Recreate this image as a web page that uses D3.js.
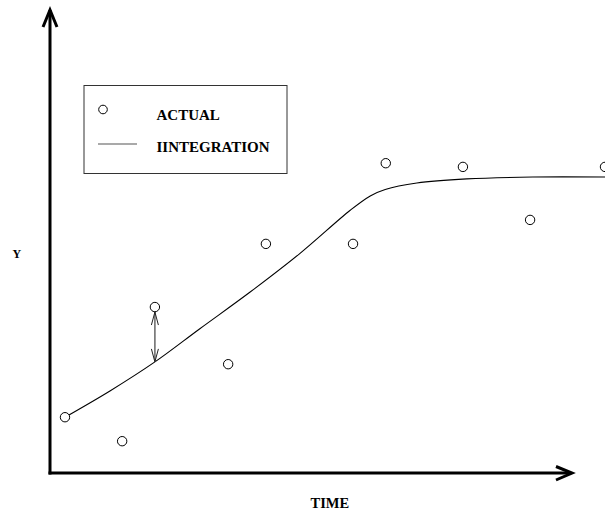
<!DOCTYPE html>
<html>
<head>
<meta charset="utf-8">
<script src="https://cdn.jsdelivr.net/npm/d3@7"></script>
<style>
  html, body { margin: 0; padding: 0; background: #fff; overflow: hidden; }
  svg { display: block; }
  text { font-family: "Liberation Serif", "Times New Roman", serif; font-weight: bold; fill: #000; }
</style>
</head>
<body>
<svg id="chart" width="605" height="510"></svg>
<script>
// ---- data ----
const actualTime = [2.7, 13.0, 18.9, 32.1, 38.9, 54.6, 60.5, 74.4, 86.5, 100];
const actualY    = [12.1, 6.9, 36.0, 23.6, 49.7, 49.7, 67.2, 66.4, 54.9, 66.4];
const integTime  = [2.7, 10.8, 18.9, 27.0, 36.0, 45.0, 54.1, 57.7, 60.4, 66.1, 75.1, 87.0, 100];
const integY     = [12.1, 17.8, 24.1, 31.3, 39.2, 47.6, 57.0, 60.1, 61.5, 62.9, 63.8, 64.2, 64.2];
const legendLabels = ["ACTUAL", "IINTEGRATION"];
const xLabel = "TIME";
const yLabel = "Y";
const arrowIndex = 2; // actual point whose deviation is marked

const svg = d3.select("#chart");
const x = d3.scaleLinear().domain([0, 100]).range([50, 605]);
const y = d3.scaleLinear().domain([0, 100]).range([473, 12]);

// axes (arrowed lines)
const axisG = svg.append("g").attr("stroke", "#000").attr("stroke-width", 3).attr("fill", "none")
  .attr("stroke-linecap", "butt");
axisG.append("line").attr("x1", 50).attr("y1", 474.5).attr("x2", 50).attr("y2", 10);
axisG.append("path").attr("d", "M43,27 L50,10 L57,27").attr("stroke-linejoin", "miter");
axisG.append("line").attr("x1", 48.5).attr("y1", 473).attr("x2", 571).attr("y2", 473);
axisG.append("path").attr("d", "M556,466.5 L572,473 L556,480");

// axis labels
svg.append("text").attr("x", 12.5).attr("y", 258).attr("font-size", 12).text(yLabel);
svg.append("text").attr("x", 310.5).attr("y", 508).attr("font-size", 14.5).text(xLabel);

// integration curve
const pts = integTime.map((t, i) => [t, integY[i]]);
const line = d3.line().x(d => x(d[0])).y(d => y(d[1])).curve(d3.curveCatmullRom.alpha(0.5));
svg.append("path").datum(pts).attr("d", line).attr("fill", "none")
  .attr("stroke", "#000").attr("stroke-width", 1.1);

// deviation double arrow
const ax = x(actualTime[arrowIndex]);
const yTop = y(actualY[arrowIndex]) + 5;
const yBot = y(integY[integTime.indexOf(actualTime[arrowIndex])]);
const arr = svg.append("g").attr("fill", "none");
arr.append("line").attr("x1", ax).attr("x2", ax).attr("y1", yTop).attr("y2", yBot)
  .attr("stroke", "#666").attr("stroke-width", 1.5);
arr.append("path").attr("d", `M${ax - 3.5},${yTop + 13} L${ax},${yTop} L${ax + 3.5},${yTop + 13}`)
  .attr("stroke", "#222").attr("stroke-width", 1);
arr.append("path").attr("d", `M${ax - 3.5},${yBot - 13} L${ax},${yBot} L${ax + 3.5},${yBot - 13}`)
  .attr("stroke", "#222").attr("stroke-width", 1);

// actual points
svg.append("g").selectAll("circle").data(actualTime).join("circle")
  .attr("cx", (d) => x(d)).attr("cy", (d, i) => y(actualY[i])).attr("r", 4.7)
  .attr("fill", "#fff").attr("stroke", "#000").attr("stroke-width", 1);

// legend
const lg = svg.append("g");
lg.append("rect").attr("x", 84).attr("y", 85.5).attr("width", 203).attr("height", 88)
  .attr("fill", "none").attr("stroke", "#333").attr("stroke-width", 1);
lg.append("circle").attr("cx", 103).attr("cy", 109.5).attr("r", 4.3)
  .attr("fill", "#fff").attr("stroke", "#000").attr("stroke-width", 1);
lg.append("line").attr("x1", 98).attr("x2", 137).attr("y1", 144).attr("y2", 144)
  .attr("stroke", "#555").attr("stroke-width", 1.2);
lg.append("text").attr("x", 156.5).attr("y", 120).attr("font-size", 15).text(legendLabels[0]);
lg.append("text").attr("x", 156.5).attr("y", 152).attr("font-size", 15).text(legendLabels[1]);
</script>
</body>
</html>
